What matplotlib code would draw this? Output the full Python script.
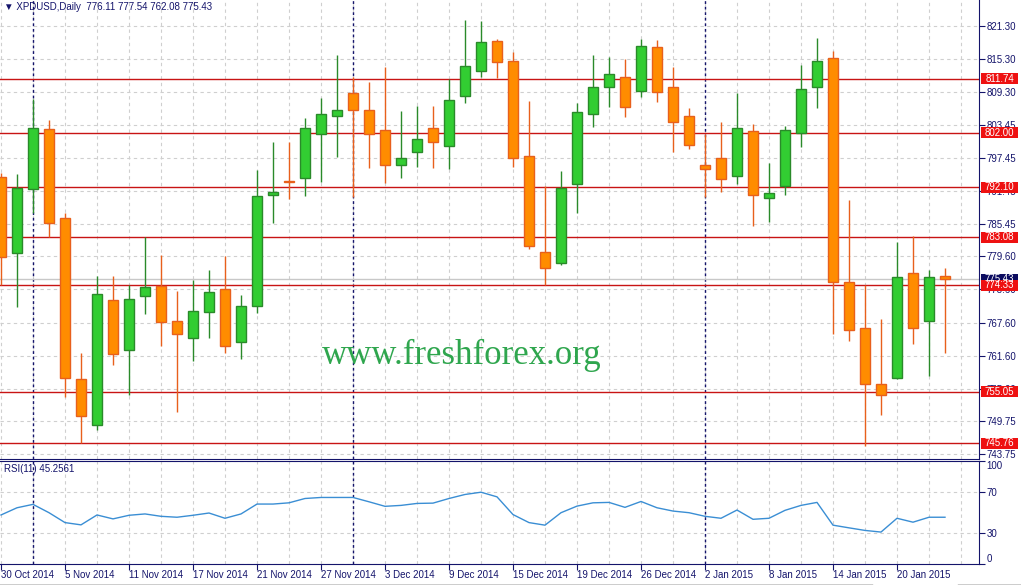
import matplotlib
matplotlib.use("Agg")
import matplotlib.pyplot as plt
import matplotlib.transforms as mtransforms
from matplotlib.patches import Rectangle
from matplotlib.lines import Line2D
import pandas as pd

plt.rcParams['font.family'] = ['Liberation Sans', 'DejaVu Sans']

# DATA (XPDUSD daily, 30 Oct 2014 - 23 Jan 2015)
dates = pd.bdate_range("2014-10-30", "2015-01-23")
dates = dates[~dates.isin(pd.to_datetime(["2014-12-25", "2015-01-01"]))]

opens = [793.96, 780.14, 791.73, 802.60, 786.48, 757.33, 749.00, 771.63, 762.58, 772.36,
         774.28, 767.83, 764.75, 769.46, 773.63, 764.03, 770.55, 790.65, 793.30, 793.72,
         801.80, 805.06, 809.11, 806.04, 802.42, 796.08, 798.43, 802.78, 799.52, 808.57,
         813.10, 818.53, 814.91, 797.71, 780.33, 778.33, 792.64, 805.31, 810.20, 812.01,
         809.48, 817.44, 810.20, 804.95, 796.08, 797.35, 794.09, 802.23, 790.10, 792.28,
         801.87, 810.20, 815.45, 774.89, 766.56, 756.43, 757.51, 776.52, 767.83, 776.11]
highs = [794.70, 794.50, 808.03, 804.28, 787.39, 762.04, 776.03, 776.03, 774.35, 783.15,
         779.78, 773.32, 775.31, 777.12, 779.66, 772.59, 795.23, 800.24, 800.24, 804.59,
         808.21, 816.05, 812.12, 811.11, 813.82, 805.91, 806.82, 806.82, 811.76, 822.39,
         822.20, 818.89, 816.54, 807.72, 792.28, 794.99, 807.30, 815.99, 815.63, 815.27,
         818.89, 818.71, 813.82, 806.40, 801.69, 803.86, 809.11, 803.50, 796.44, 803.14,
         814.18, 819.07, 816.72, 789.74, 774.35, 768.19, 782.25, 783.22, 777.07, 777.54]
lows = [774.40, 770.37, 787.39, 783.04, 754.07, 745.74, 748.15, 759.92, 754.49, 769.10,
        763.42, 751.47, 760.70, 764.86, 762.15, 761.06, 769.28, 785.69, 789.92, 790.57,
        793.11, 797.64, 790.39, 795.64, 792.93, 793.83, 795.82, 795.64, 795.46, 807.30,
        812.12, 811.83, 795.72, 780.87, 774.35, 777.97, 787.39, 802.96, 806.58, 804.88,
        808.50, 807.49, 798.54, 798.98, 790.29, 791.19, 792.64, 785.14, 785.76, 790.65,
        799.45, 806.40, 765.48, 764.21, 745.20, 750.81, 757.40, 763.67, 757.87, 762.08]
closes = [779.47, 792.02, 802.78, 785.58, 757.51, 750.63, 772.72, 761.86, 771.82, 773.99,
          767.65, 765.48, 769.64, 773.08, 763.31, 770.60, 790.46, 791.19, 793.10, 802.78,
          805.31, 806.04, 806.04, 801.69, 796.08, 797.35, 800.79, 800.24, 807.85, 814.00,
          818.35, 814.73, 797.35, 781.41, 777.43, 791.91, 805.67, 810.20, 812.55, 806.58,
          817.62, 809.30, 803.94, 799.70, 795.35, 793.54, 802.78, 790.65, 791.01, 802.42,
          809.84, 814.91, 774.89, 766.20, 756.43, 754.44, 775.80, 766.56, 775.80, 775.43]

rsi_values = [47.6, 54.6, 57.9, 49.8, 40.2, 38.0, 47.6, 43.8, 47.3, 48.6,
              46.3, 45.4, 47.3, 49.5, 44.4, 48.6, 58.2, 58.2, 59.4, 63.6,
              64.6, 64.6, 64.6, 60.4, 56.0, 56.9, 58.8, 59.1, 63.6, 67.5,
              69.7, 65.2, 48.0, 40.2, 37.7, 49.8, 56.2, 59.4, 59.8, 55.0,
              60.7, 54.6, 51.4, 49.8, 46.3, 44.4, 52.4, 43.4, 44.4, 52.1,
              56.9, 59.8, 37.7, 35.1, 32.6, 31.0, 44.4, 40.6, 45.4, 45.4]

price_ticks = [821.30, 815.30, 809.30, 803.45, 797.45, 791.45, 785.45, 779.60,
               773.60, 767.60, 761.60, 755.60, 749.75, 743.75]
levels = [811.74, 802.00, 792.10, 783.08, 774.33, 755.05, 745.76]
last_price = 775.43
separator_bars = [2, 22, 44]
label_bars = list(range(0, 60, 4))

# STYLE
NAVY = "#14146b"
GREEN, GREEN_EDGE = "#32cd32", "#2a8a2a"
ORANGE, ORANGE_EDGE = "#ff8c00", "#e8601c"
LEVEL_RED = "#c81414"
BOX_RED = "#ee1111"
GRID = "#cfcfcf"

W, H = 1021, 585


def px_rect(x0, y0, x1, y1):
    return [x0 / W, 1 - y1 / H, (x1 - x0) / W, (y1 - y0) / H]


fig = plt.figure(figsize=(W / 100, H / 100), dpi=100)
ax = fig.add_axes(px_rect(0, 0, 979, 459))
rsi_ax = fig.add_axes(px_rect(0, 461, 979, 564))

x = list(range(len(opens)))
for a in (ax, rsi_ax):
    a.set_xlim(-0.0625, 61.125)
    a.set_xticks(label_bars)
    a.set_xticks(range(0, 62, 2), minor=True)
    a.grid(axis="x", which="both", color=GRID, ls=(0, (3, 3)), lw=0.8)
    for s in separator_bars:
        a.axvline(s, color=NAVY, ls=(0, (2, 2)), lw=1, zorder=1.6)
    a.spines["left"].set_visible(False)
    for side in ("right", "bottom", "top"):
        a.spines[side].set_color(NAVY)
    a.yaxis.tick_right()
    a.tick_params(axis="y", colors=NAVY, labelsize=7, length=4, pad=1.5)
ax.spines["top"].set_visible(False)
ax.tick_params(axis="x", which="both", length=0, labelbottom=False)

# candles
up = [c >= o for o, c in zip(opens, closes)]
ax.vlines(x, lows, highs, colors=[GREEN_EDGE if u else ORANGE_EDGE for u in up],
          lw=1, zorder=3)
ax.bar(x, [abs(c - o) for o, c in zip(opens, closes)],
       bottom=[min(o, c) for o, c in zip(opens, closes)], width=0.62,
       color=[GREEN if u else ORANGE for u in up],
       edgecolor=[GREEN_EDGE if u else ORANGE_EDGE for u in up], linewidth=1, zorder=4)

ax.set_ylim(742.9, 826.0)
ax.set_yticks(price_ticks)
ax.set_yticklabels([f"{v:.2f}" for v in price_ticks])
ax.grid(axis="y", color=GRID, ls=(0, (3, 3)), lw=0.8)

ax.axhline(last_price, color="#c8c8c8", lw=1, zorder=1.8)
for lv in levels:
    ax.axhline(lv, color=LEVEL_RED, lw=1, zorder=2)

# right-hand price boxes
trans = mtransforms.blended_transform_factory(ax.transAxes, ax.transData)
box_w = 37 / 979
box_h = 11 / 5.523
for val, col in [(last_price, "#0c0c60")] + [(lv, BOX_RED) for lv in levels]:
    ax.add_patch(Rectangle((981 / 979, val - box_h / 2), box_w, box_h, transform=trans,
                           facecolor=col, edgecolor="none", clip_on=False, zorder=6))
    ax.text(981 / 979 + box_w / 2, val, f"{val:.2f}", transform=trans, ha="center",
            va="center", color="white", fontsize=7, clip_on=False, zorder=7)

# RSI panel
rsi_ax.plot(x, rsi_values, color="#3a8ed4", lw=1)
rsi_ax.set_ylim(0, 100)
rsi_ax.set_yticks([0, 30, 70, 100])
rsi_ax.grid(axis="y", color=GRID, ls=(0, (3, 3)), lw=0.8)
ylabels = rsi_ax.get_yticklabels()
ylabels[0].set_va("bottom")
ylabels[-1].set_va("top")
rsi_ax.set_xticklabels([f"{dates[i].day} {dates[i].strftime('%b %Y')}" for i in label_bars],
                       ha="left")
rsi_ax.tick_params(axis="x", which="major", colors=NAVY, labelsize=7, length=4, pad=0.5)
rsi_ax.tick_params(axis="x", which="minor", length=0)

# texts
fig.text(4 / W, 1 - 7 / H, "\u25bc XPDUSD,Daily  776.11 777.54 762.08 775.43",
         va="center", ha="left", fontsize=7, color=NAVY)
fig.text(4 / W, 1 - 469 / H, "RSI(11) 45.2561", va="center", ha="left",
         fontsize=7, color=NAVY)
fig.text(462 / W, 1 - 355 / H, "www.freshforex.org", family="Liberation Serif",
         fontsize=25, color="#2fa64e", ha="center", va="center", zorder=0)

fig.add_artist(Line2D([0, 872 / W], [1 - 584.5 / H] * 2, color="black", lw=1))
fig.add_artist(Line2D([958 / W, 1], [1 - 584.5 / H] * 2, color="black", lw=1))

fig.savefig("out.png", dpi=100, facecolor="white")
